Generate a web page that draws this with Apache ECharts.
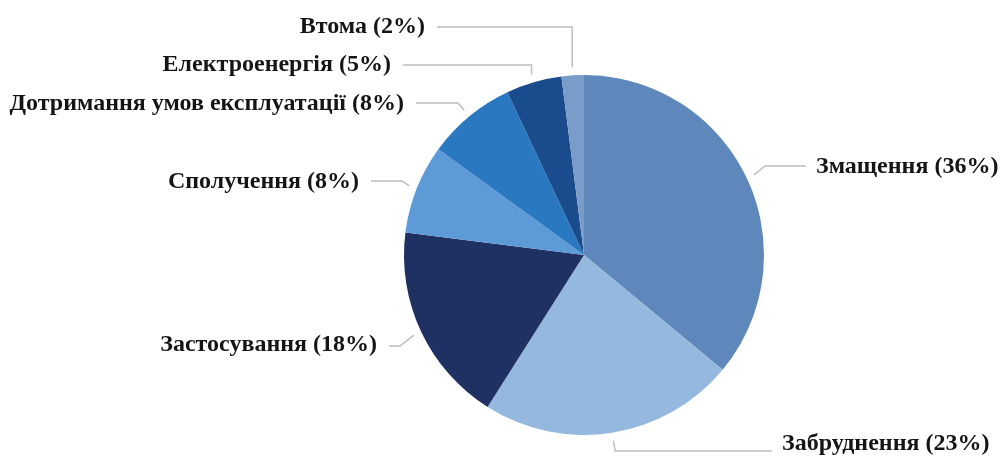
<!DOCTYPE html>
<html>
<head>
<meta charset="utf-8">
<script src="https://cdn.jsdelivr.net/npm/echarts@6/dist/echarts.min.js"></script>
<style>
  html, body { margin: 0; padding: 0; background: #fff; }
</style>
</head>
<body>
<div id="chart" style="width:1000px;height:458px;"></div>
<script>
// категорії та частки (%), за годинниковою стрілкою від верху
var categories = ['Змащення', 'Забруднення', 'Застосування', 'Сполучення',
  'Дотримання умов експлуатації', 'Електроенергія', 'Втома'];
var shares = [36, 23, 18, 8, 8, 5, 2];
var colors = ['#5e87bb', '#95b9de', '#1f3063', '#5c9ad8', '#2a78c0', '#1a4b8c', '#7a9cc9'];

// де стоїть кожен підпис: x/y тексту, вирівнювання, точка злому лінії
var labelSpots = [
  { x: 816, y: 167, align: 'left',  bendX: 765, bendY: 166 },
  { x: 782, y: 444, align: 'left',  bendX: 615, bendY: 451 },
  { x: 377, y: 345, align: 'right', bendX: 400, bendY: 346 },
  { x: 359, y: 182, align: 'right', bendX: 402, bendY: 181 },
  { x: 404, y: 104, align: 'right', bendX: 458, bendY: 103 },
  { x: 391, y: 65,  align: 'right', bendX: null, bendY: 65 },
  { x: 425, y: 27,  align: 'right', bendX: null, bendY: 27 }
];

var chart = echarts.init(document.getElementById('chart'));

chart.setOption({
  backgroundColor: '#fff',
  animation: false,
  series: [{
    type: 'pie',
    center: [584, 255],
    radius: 180,
    startAngle: 90,
    clockwise: true,
    data: categories.map(function (name, i) {
      return { name: name, value: shares[i], itemStyle: { color: colors[i] } };
    }),
    label: {
      show: true,
      position: 'outside',
      formatter: function (p) { return p.name + ' (' + p.value + '%)'; },
      fontFamily: '"Liberation Serif", "DejaVu Serif", serif',
      fontWeight: 'bold',
      fontSize: 24,
      color: '#151515'
    },
    labelLine: {
      show: true,
      lineStyle: { color: '#bdbdbd', width: 1.5 }
    },
    labelLayout: function (params) {
      var s = labelSpots[params.dataIndex];
      var a = params.labelLinePoints[0];
      // трохи відступаємо від краю сектора
      var dx = a[0] - 584, dy = a[1] - 255;
      var len = Math.sqrt(dx * dx + dy * dy);
      var start = [a[0] + dx / len * 8, a[1] + dy / len * 8];
      var w = params.labelRect.width;
      var endX = s.align === 'left' ? s.x - 10 : s.x + 12;
      var bend = s.bendX === null ? [start[0], s.bendY] : [s.bendX, s.bendY];
      return {
        x: s.align === 'left' ? s.x : s.x - w,
        y: s.y,
        align: 'left',
        verticalAlign: 'middle',
        labelLinePoints: [start, bend, [endX, s.bendY]]
      };
    }
  }]
});
</script>
</body>
</html>
